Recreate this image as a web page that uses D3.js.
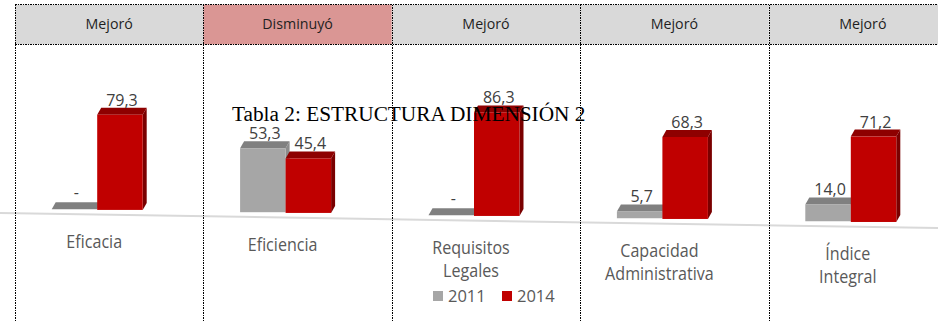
<!DOCTYPE html>
<html>
<head>
<meta charset="utf-8">
<script src="https://cdn.jsdelivr.net/npm/d3@7"></script>
<style>
  html, body { margin: 0; padding: 0; background: #fff; }
  svg { display: block; }
</style>
</head>
<body>
<svg id="chart" width="938" height="322"></svg>
<script>
// Indicator categories (split onto lines for the axis labels)
const categories = ["Eficacia", "Eficiencia", "Requisitos Legales", "Capacidad Administrativa", "Índice Integral"];
const categoryLines = [["Eficacia"], ["Eficiencia"], ["Requisitos", "Legales"], ["Capacidad", "Administrativa"], ["Índice", "Integral"]];
// Status shown in the header row of each column
const statuses = ["Mejoró", "Disminuyó", "Mejoró", "Mejoró", "Mejoró"];
// Series
const seriesNames = ["2011", "2014"];
const values2011 = [0, 53.3, 0, 5.7, 14.0];
const values2014 = [79.3, 45.4, 86.3, 68.3, 71.2];
const title = "Tabla 2: ESTRUCTURA DIMENSIÓN 2";

const W = 938, H = 322;
const svg = d3.select("#chart");
const sans = "'Open Sans', 'Noto Sans', sans-serif";

const colors = {
  "2011": { front: "#a6a6a6", top: "#808080", side: "#8c8c8c" },
  "2014": { front: "#c00000", top: "#8e0000", side: "#7a0000" }
};

// Column layout of the table
const x0 = d3.scaleBand().domain(categories).range([15, 957]).padding(0);
// Position of each series inside a column (relative to the column centre)
const x1 = d3.scaleBand().domain(seriesNames).range([-57.5, 33.5]).padding(0);
// Bar height per value
const y = d3.scaleLinear().domain([0, 100]).range([0, 120]);

// Floor recedes slightly to the right
const floorY = x => 213 + 0.016 * x;
const baseY = x => floorY(x) - 5;
const depth = { dx: 4, dy: -7 };

const fmt = v => v === 0 ? "-" : d3.format(".1f")(v).replace(".", ",");

// Header row fills
const headerTop = 4.5, headerBottom = 44.5;
svg.append("g").selectAll("rect")
  .data(categories)
  .join("rect")
  .attr("x", d => x0(d))
  .attr("y", headerTop)
  .attr("width", x0.bandwidth())
  .attr("height", headerBottom - headerTop)
  .attr("fill", (d, i) => statuses[i] === "Disminuyó" ? "#da9694" : "#d9d9d9");

svg.append("g").selectAll("text")
  .data(categories)
  .join("text")
  .attr("transform", d => `translate(${x0(d) + x0.bandwidth() / 2},29) scale(0.95,1)`)
  .attr("text-anchor", "middle")
  .attr("font-family", sans)
  .attr("font-size", 15)
  .attr("fill", "#1f1f1f")
  .text((d, i) => statuses[i]);

// Floor line
svg.append("line")
  .attr("x1", 0).attr("y1", floorY(0))
  .attr("x2", W).attr("y2", floorY(W))
  .attr("stroke", "#d9d9d9")
  .attr("stroke-width", 2);

// Bars drawn as simple extruded boxes
const barsG = svg.append("g");
const bars = [];
categories.forEach((c, i) => {
  const cx = x0(c) + x0.bandwidth() / 2;
  [["2011", values2011[i]], ["2014", values2014[i]]].forEach(([s, v]) => {
    bars.push({ c, s, v, x: cx + x1(s), w: x1.bandwidth() });
  });
});

bars.forEach(b => {
  const g = barsG.append("g");
  const xl = b.x, xr = b.x + b.w;
  const bottom = baseY(xl + b.w / 2);
  const top = bottom - y(b.v);
  const { dx, dy } = depth;
  const col = colors[b.s];
  // right side face
  g.append("polygon")
    .attr("points", [[xr, top], [xr + dx, top + dy], [xr + dx, bottom + dy], [xr, bottom]].join(" "))
    .attr("fill", col.side);
  // top face
  g.append("polygon")
    .attr("points", [[xl, top], [xl + dx, top + dy], [xr + dx, top + dy], [xr, top]].join(" "))
    .attr("fill", col.top);
  // front face
  if (b.v > 0) {
    g.append("rect")
      .attr("x", xl).attr("y", top)
      .attr("width", b.w).attr("height", bottom - top)
      .attr("fill", col.front);
  }
  b.labelX = xl + b.w / 2 + 2;
  b.labelY = top + dy - (b.v === 0 ? 4 : 2);
});

// Value labels
svg.append("g").selectAll("text")
  .data(bars)
  .join("text")
  .attr("x", d => d.labelX)
  .attr("y", d => d.labelY)
  .attr("text-anchor", "middle")
  .attr("font-family", sans)
  .attr("font-size", 16)
  .attr("fill", "#404040")
  .text(d => fmt(d.v));

// Category labels under the floor
const catG = svg.append("g");
categories.forEach((c, i) => {
  const cx = x0(c) + x0.bandwidth() / 2 - 15;
  const t = catG.append("text")
    .attr("transform", `translate(${cx},${baseY(cx) + 38}) scale(0.92,1)`)
    .attr("text-anchor", "middle")
    .attr("font-family", sans)
    .attr("font-size", 17.5)
    .attr("fill", "#595959");
  categoryLines[i].forEach((line, j) => {
    t.append("tspan")
      .attr("x", 0)
      .attr("y", j * 23)
      .text(line);
  });
});

// Legend
const legend = svg.append("g").attr("transform", "translate(433,291)");
const legendX = d3.scaleOrdinal().domain(seriesNames).range([0, 69]);
seriesNames.forEach(s => {
  const g = legend.append("g").attr("transform", `translate(${legendX(s)},0)`);
  g.append("rect").attr("width", 10).attr("height", 10).attr("fill", colors[s].front);
  g.append("text")
    .attr("x", 15).attr("y", 11)
    .attr("font-family", sans)
    .attr("font-size", 16.5)
    .attr("fill", "#595959")
    .text(s);
});

// Table grid (dotted)
const grid = svg.append("g")
  .attr("stroke", "#000")
  .attr("stroke-width", 1)
  .attr("stroke-dasharray", "1.5,1")
  .attr("shape-rendering", "crispEdges");
grid.append("line").attr("x1", 15).attr("x2", W).attr("y1", headerTop).attr("y2", headerTop);
grid.append("line").attr("x1", 15).attr("x2", W).attr("y1", headerBottom).attr("y2", headerBottom);
grid.selectAll(".v")
  .data(categories)
  .join("line")
  .attr("x1", d => Math.round(x0(d)) + 0.5)
  .attr("x2", d => Math.round(x0(d)) + 0.5)
  .attr("y1", headerTop)
  .attr("y2", H);

// Title overlaid on the chart
svg.append("text")
  .attr("x", 232)
  .attr("y", 121)
  .attr("font-family", "'Liberation Serif', 'Times New Roman', serif")
  .attr("font-size", 21.3)
  .attr("fill", "#000")
  .text(title);
</script>
</body>
</html>
